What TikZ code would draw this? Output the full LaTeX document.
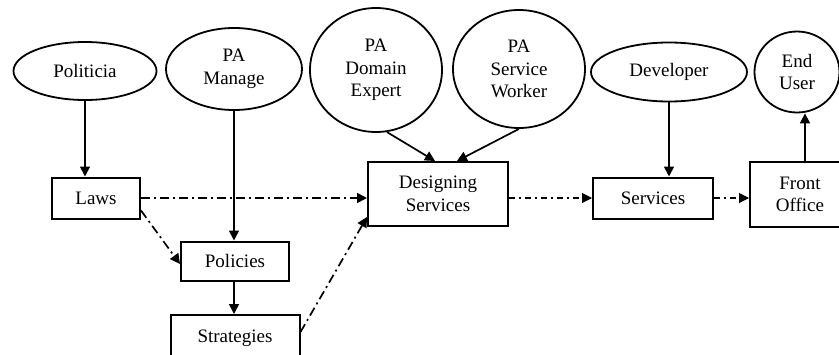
\documentclass[tikz,border=0pt]{standalone}
\usepackage{fontspec}
\setmainfont{Liberation Serif}
\usetikzlibrary{shapes.geometric,arrows.meta,calc}
\begin{document}
\begin{tikzpicture}[x=1pt,y=-1pt,
  every node/.style={font=\fontsize{19}{22.5}\selectfont, align=center},
  ell/.style={ellipse, draw, line width=1.8pt, inner sep=0pt},
  box/.style={rectangle, draw, line width=2pt, inner sep=0pt},
  arr/.style={line width=1.7pt, -{Triangle[length=10pt,width=10pt]}},
  dd/.style={line width=1.7pt, dash pattern=on 9pt off 4pt on 2pt off 4pt, -{Triangle[length=10pt,width=10pt]}},
  ddthin/.style={line width=1.1pt, dash pattern=on 6pt off 4pt on 2pt off 4pt, -{Triangle[length=10pt,width=10pt]}}
]
\useasboundingbox (0,0) rectangle (839,354);
% ellipses
\node[ell, minimum width=143pt, minimum height=58pt] (pol) at (85,71) {Politicia};
\node[ell, minimum width=136pt, minimum height=82pt] (pam) at (234,69) {PA\\Manage};
\node[ell, minimum width=132pt, minimum height=124pt] (pde) at (376,70) {PA\\Domain\\Expert};
\node[ell, minimum width=132pt, minimum height=118pt] (psw) at (519,69) {PA\\Service\\Worker};
\node[ell, minimum width=156pt, minimum height=59pt] (dev) at (669,72) {Developer};
\node[ell, minimum width=85pt, minimum height=81pt] (eu) at (797,72) {End\\User};
% boxes
\node[box, minimum width=88pt, minimum height=41pt] (laws) at (96,198) {Laws};
\node[box, minimum width=108pt, minimum height=39pt] (poli) at (235,261) {Policies};
\node[box, minimum width=129pt, minimum height=46pt] (strat) at (235,338) {Strategies};
\node[box, minimum width=140pt, minimum height=64pt] (des) at (438,194) {Designing\\Services};
\node[box, minimum width=120pt, minimum height=41pt] (serv) at (653,198) {Services};
\node[box, minimum width=100pt, minimum height=65pt] (fo) at (800,194.5) {Front\\Office};
% connectors
\draw[arr] (pol.south) -- (pol.south |- laws.north);
\draw[arr] (pam.south) -- (pam.south |- poli.north);
\draw[arr] (poli.south -| pam.south) -- (strat.north -| pam.south);
\draw[dd] (laws.east) -- (laws.east -| des.west);
\draw[dd] ([yshift=9pt]laws.south east) -- ([yshift=-3pt]poli.west);
\draw[dd] ([yshift=6pt]strat.east) -- ([yshift=10pt]des.south west);
\draw[arr] (pde.-80) -- ([xshift=-3pt]des.north);
\draw[arr] (psw.south) -- ([xshift=19pt]des.north);
\draw[ddthin] (des.east |- serv.west) -- (serv.west);
\draw[arr] (dev.south) -- (dev.south |- serv.north);
\draw[ddthin] (serv.east) -- (serv.east -| fo.west);
\draw[arr] ([xshift=5pt]fo.north) -- ([xshift=5pt]fo.north |- eu.south);
\end{tikzpicture}
\end{document}
